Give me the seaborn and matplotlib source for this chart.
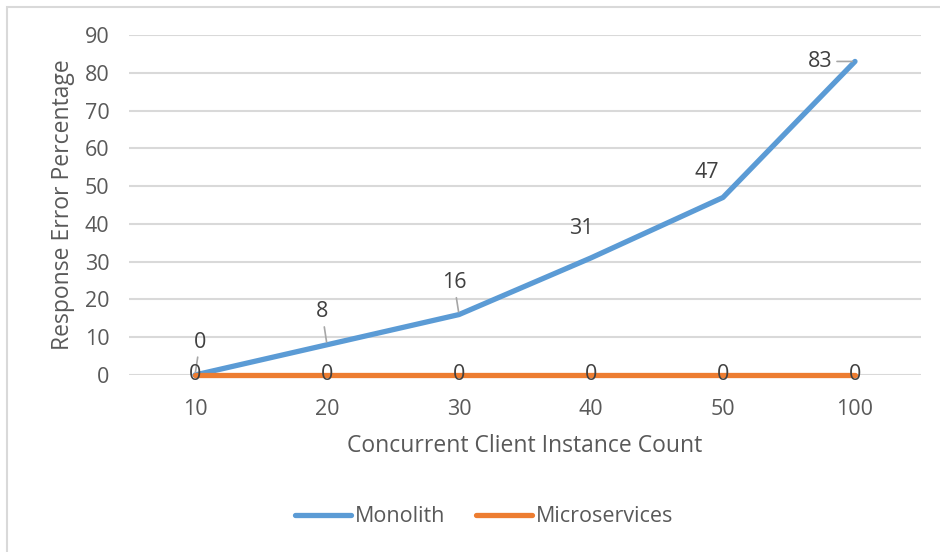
import matplotlib
matplotlib.use("Agg")
import matplotlib.pyplot as plt
from matplotlib.patches import Rectangle
import pandas as pd
import seaborn as sns

# Concurrent client counts and response error percentages per architecture
client_counts = ["10", "20", "30", "40", "50", "100"]
monolith = [0, 8, 16, 31, 47, 83]
microservices = [0, 0, 0, 0, 0, 0]
series_names = ["Monolith", "Microservices"]
series_colors = ["#5B9BD5", "#ED7D31"]
y_ticks = [0, 10, 20, 30, 40, 50, 60, 70, 80, 90]

df = pd.DataFrame({
    "Clients": client_counts * 2,
    "Error": monolith + microservices,
    "Architecture": [series_names[0]] * len(client_counts) + [series_names[1]] * len(client_counts),
})

sns.set_theme(style="white")
plt.rcParams["font.family"] = ["Open Sans", "DejaVu Sans"]
text_color = "#595959"
label_color = "#404040"
grid_color = "#D9D9D9"
tick_size = 15.5
title_size = 16.5

fig = plt.figure(figsize=(9.4, 5.52), dpi=100)
ax = fig.add_axes([129 / 940, 1 - 375 / 552, 792 / 940, 340 / 552])

sns.lineplot(data=df, x="Clients", y="Error", hue="Architecture",
             palette=series_colors, hue_order=series_names,
             linewidth=3.8, sort=False, ax=ax, legend=False,
             solid_capstyle="round", zorder=3)
for line in ax.lines:
    line.set_clip_on(False)

ax.set_xlim(-0.5, len(client_counts) - 0.5)
ax.set_ylim(0, 90)
ax.set_yticks(y_ticks)
ax.yaxis.grid(True, color=grid_color, linewidth=1.5, zorder=0)
ax.set_axisbelow(True)
for s in ax.spines.values():
    s.set_visible(False)
ax.tick_params(axis="both", length=0, labelsize=tick_size, colors=text_color)
ax.tick_params(axis="y", pad=14)
ax.tick_params(axis="x", pad=17)
ax.set_xlabel("Concurrent Client Instance Count", fontsize=title_size, color=text_color, labelpad=10)
ax.set_ylabel("Response Error Percentage", fontsize=title_size, color=text_color, labelpad=7)

# Monolith value labels: offsets in pixels and whether a leader line is drawn
label_offsets = [(5, 33), (-5, 33), (-5, 32), (-10, 29), (-16, 25), (-35, 0)]
leader = [True, True, True, False, False, True]
for i, (v, off, ld) in enumerate(zip(monolith, label_offsets, leader)):
    arrow = dict(arrowstyle="-", color="#A6A6A6", lw=1.2, shrinkA=1, shrinkB=2) if ld else None
    ax.annotate(str(v), xy=(i, v), xytext=off, textcoords="offset pixels",
                ha="center", va="center", fontsize=tick_size, color=label_color,
                arrowprops=arrow, zorder=5, annotation_clip=False)

# Microservices value labels sit on the points
for i, v in enumerate(microservices):
    ax.annotate(str(v), xy=(i, v), xytext=(0, 0), textcoords="offset pixels",
                ha="center", va="center", fontsize=tick_size, color=label_color,
                zorder=5, annotation_clip=False)

handles = [plt.Line2D([], [], color=c, linewidth=3.8, solid_capstyle="round") for c in series_colors]
leg = fig.legend(handles, series_names, loc="center", bbox_to_anchor=(484 / 940, 1 - 517 / 552),
                 ncol=2, frameon=False, fontsize=tick_size, handlelength=2.6,
                 handletextpad=0.2, columnspacing=1.4)
for t in leg.get_texts():
    t.set_color(text_color)

# Chart-area border
fig.patches.append(Rectangle((7.5 / 940, -0.5), 2, 0.5 + (1 - 6.5 / 552),
                             transform=fig.transFigure, fill=False,
                             edgecolor=grid_color, linewidth=1.5))

fig.savefig("out.png", dpi=100, facecolor="white")
